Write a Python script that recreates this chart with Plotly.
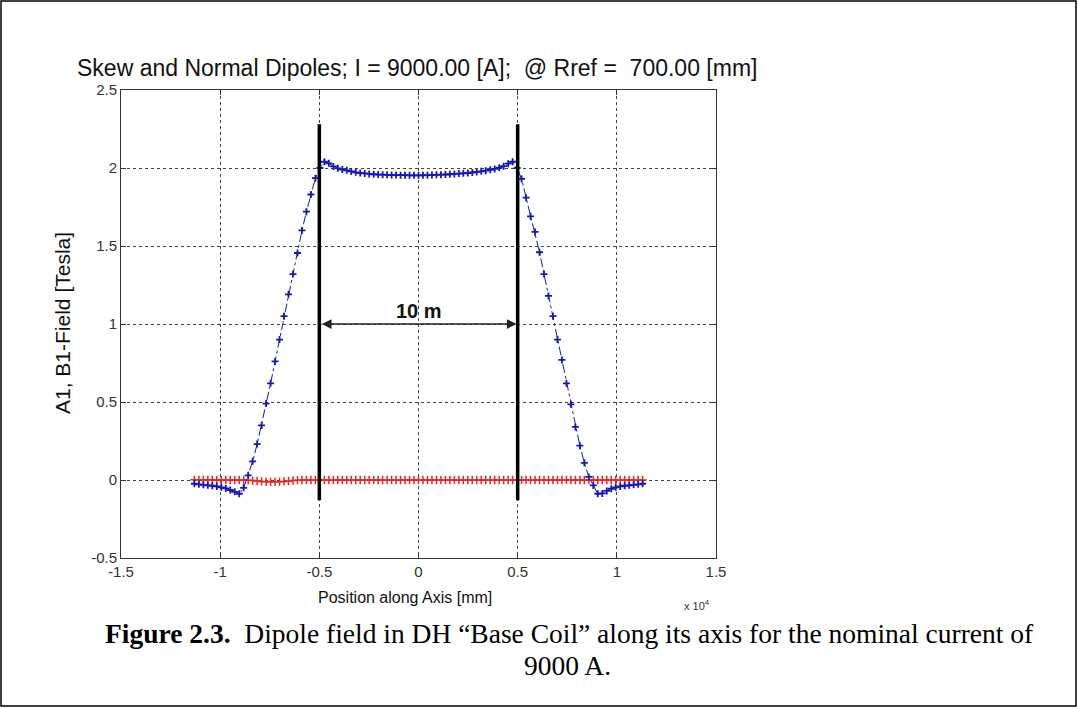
import plotly.graph_objects as go

# position along the axis [mm] (shared by both harmonics)
position_mm = [
    -11300, -11074, -10848, -10622, -10396, -10170, -9944, -9718, -9492, -9266,
    -9040, -8814, -8588, -8362, -8136, -7910, -7684, -7458, -7232, -7006,
    -6780, -6554, -6328, -6102, -5876, -5650, -5424, -5198, -4972, -4746,
    -4520, -4294, -4068, -3842, -3616, -3390, -3164, -2938, -2712, -2486,
    -2260, -2034, -1808, -1582, -1356, -1130, -904, -678, -452, -226,
    0,
    226, 452, 678, 904, 1130, 1356, 1582, 1808, 2034, 2260,
    2486, 2712, 2938, 3164, 3390, 3616, 3842, 4068, 4294, 4520,
    4746, 4972, 5198, 5424, 5650, 5876, 6102, 6328, 6554, 6780,
    7006, 7232, 7458, 7684, 7910, 8136, 8362, 8588, 8814, 9040,
    9266, 9492, 9718, 9944, 10170, 10396, 10622, 10848, 11074, 11300,
]

# B1 normal dipole [T]
b1_field = [
    -0.024, -0.028, -0.031, -0.034, -0.037, -0.041, -0.047, -0.054, -0.064, -0.076,
    -0.088, -0.050, 0.030, 0.120, 0.230, 0.350, 0.490, 0.620, 0.760, 0.900,
    1.050, 1.190, 1.320, 1.455, 1.600, 1.720, 1.830, 1.935, 2.000, 2.040,
    2.030, 2.010, 1.998, 1.990, 1.985, 1.978, 1.972, 1.968, 1.965, 1.962,
    1.960, 1.958, 1.957, 1.956, 1.955, 1.955, 1.954, 1.954, 1.953, 1.953,
    1.953,
    1.953, 1.954, 1.955, 1.956, 1.957, 1.958, 1.960, 1.962, 1.964, 1.966,
    1.968, 1.971, 1.975, 1.979, 1.983, 1.988, 1.994, 2.002, 2.012, 2.028,
    2.040, 2.000, 1.930, 1.810, 1.690, 1.590, 1.460, 1.320, 1.180, 1.050,
    0.900, 0.770, 0.620, 0.485, 0.340, 0.220, 0.110, 0.020, -0.035, -0.088,
    -0.086, -0.070, -0.056, -0.047, -0.041, -0.037, -0.034, -0.031, -0.028, -0.024,
]

# A1 skew dipole [T]
a1_field = [
    0.001, 0.001, 0.001, 0.001, 0.000, 0.000, 0.000, 0.000, 0.000, 0.000,
    0.000, 0.000, -0.002, -0.004, -0.006, -0.009, -0.011, -0.012, -0.012, -0.011,
    -0.009, -0.006, -0.003, -0.001, 0.000, 0.000, 0.000, 0.000, 0.000, 0.000,
    0.000, 0.000, 0.000, 0.000, 0.000, 0.000, 0.000, 0.000, 0.000, 0.000,
    0.000, 0.000, 0.000, 0.000, 0.000, 0.000, 0.000, 0.000, 0.000, 0.000,
    0.000,
    0.000, 0.000, 0.000, 0.000, 0.000, 0.000, 0.000, 0.000, 0.000, 0.000,
    0.000, 0.000, 0.000, 0.000, 0.000, 0.000, 0.000, 0.000, 0.000, 0.000,
    0.000, 0.000, 0.000, 0.000, 0.000, 0.000, 0.000, 0.000, 0.000, 0.000,
    0.000, 0.000, 0.000, 0.000, 0.000, 0.000, 0.000, 0.000, 0.000, 0.000,
    0.000, 0.000, 0.000, 0.000, 0.000, 0.000, 0.000, 0.000, 0.000, 0.000,
]

# black markers for the 10 m magnetic length
edge_mm = [-5000, 5000]
edge_field = [-0.13, 2.28]
arrow_field = 1.0

SCALE = 1e4  # axis shown as x 10^4 mm

W, H = 1078, 708
L, R, T, B = 121, 716, 90, 558


def px(x):
    return (x - L) / (R - L)


def py(y):
    return (B - y) / (B - T)


sans = "Liberation Sans, Arial, sans-serif"
serif = "Liberation Serif, Times New Roman, serif"
xs = [p / SCALE for p in position_mm]

fig = go.Figure()

fig.add_trace(go.Scatter(
    x=xs, y=a1_field, mode="lines+markers",
    line=dict(color="#e02a2a", width=1, dash="dashdot"),
    marker=dict(symbol="cross-thin", size=6, line=dict(color="#e02a2a", width=1.5)),
    hoverinfo="x+y", name="A1"))

fig.add_trace(go.Scatter(
    x=xs, y=b1_field, mode="lines+markers",
    line=dict(color="#1818b0", width=1, dash="dashdot"),
    marker=dict(symbol="cross-thin", size=5, line=dict(color="#1818b0", width=1.8)),
    hoverinfo="x+y", name="B1"))

for e in edge_mm:
    fig.add_trace(go.Scatter(
        x=[e / SCALE, e / SCALE], y=edge_field, mode="lines",
        line=dict(color="black", width=3.5), hoverinfo="skip"))

axis_common = dict(
    showgrid=True, gridcolor="#444", griddash="dot", gridwidth=1,
    zeroline=False, showline=True, linecolor="#333", linewidth=1,
    mirror="ticks", ticks="inside", ticklen=5, tickcolor="#333",
    tickfont=dict(family=sans, size=15, color="#333"),
)

fig.update_layout(
    width=W, height=H,
    margin=dict(l=L, r=W - R, t=T, b=H - B),
    paper_bgcolor="white", plot_bgcolor="white",
    showlegend=False,
    xaxis=dict(range=[-1.5, 1.5], tickvals=[-1.5, -1, -0.5, 0, 0.5, 1, 1.5],
               ticktext=["-1.5", "-1", "-0.5", "0", "0.5", "1", "1.5"], **axis_common),
    yaxis=dict(range=[-0.5, 2.5], tickvals=[-0.5, 0, 0.5, 1, 1.5, 2, 2.5],
               ticktext=["-0.5", "0", "0.5", "1", "1.5", "2", "2.5"], **axis_common),
)

# 10 m double arrow
fig.add_annotation(x=edge_mm[1] / SCALE - 0.005, y=arrow_field,
                   ax=edge_mm[0] / SCALE + 0.005, ay=arrow_field,
                   xref="x", yref="y", axref="x", ayref="y",
                   text="", showarrow=True, arrowhead=2, startarrowhead=2,
                   arrowside="end+start", arrowsize=1.3, arrowwidth=1.5,
                   arrowcolor="#222")
fig.add_annotation(x=0, y=arrow_field, xref="x", yref="y", yshift=13,
                   text="<b>10 m</b>", showarrow=False,
                   font=dict(family=sans, size=20, color="#111"))

ann = [
    dict(x=px(75), y=py(68), text="Skew and Normal Dipoles; I = 9000.00 [A];\u00a0\u00a0@ Rref =\u00a0\u00a0700.00 [mm]",
         xanchor="left", font=dict(family=sans, size=23, color="#111")),
    dict(x=px(405), y=py(597), text="Position along Axis [mm]",
         xanchor="center", font=dict(family=sans, size=16, color="#111")),
    dict(x=px(62), y=py(323), text="A1, B1-Field [Tesla]", textangle=-90,
         xanchor="center", font=dict(family=sans, size=21, color="#111")),
    dict(x=px(697), y=py(605), text="x 10<sup>4</sup>",
         xanchor="center", font=dict(family=sans, size=11, color="#333")),
    dict(x=px(103), y=py(633),
         text="<b>Figure 2.3.</b>\u00a0\u00a0Dipole field in DH \u201cBase Coil\u201d along its axis for the nominal current of",
         xanchor="left", font=dict(family=serif, size=27.5, color="black")),
    dict(x=px(567), y=py(665), text="9000 A.",
         xanchor="center", font=dict(family=serif, size=27.5, color="black")),
]
for a in ann:
    fig.add_annotation(xref="paper", yref="paper", yanchor="middle", showarrow=False, **a)

# outer frame of the figure
fig.add_shape(type="rect", xref="paper", yref="paper",
              x0=px(1), x1=px(1076), y0=py(706), y1=py(1),
              line=dict(color="black", width=1.5))

fig.write_html("out.html", config={"displayModeBar": False},
               post_script="document.body.style.margin='0';")
